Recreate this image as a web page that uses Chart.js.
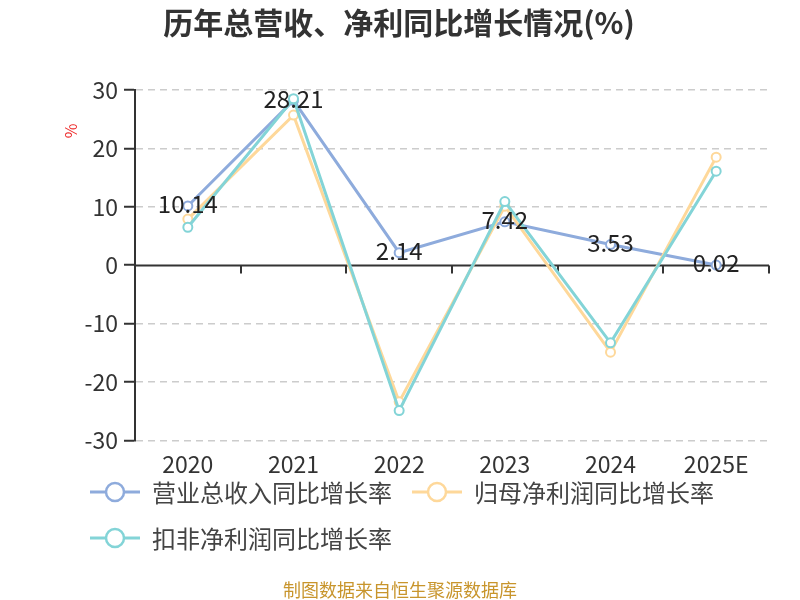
<!DOCTYPE html>
<html>
<head>
<meta charset="utf-8">
<script src="https://cdn.jsdelivr.net/npm/chart.js@4.4.1/dist/chart.umd.min.js"></script>
<style>
    html, body { margin: 0; padding: 0; background: #fff; }
    #wrap { width: 800px; height: 600px; }
</style>
</head>
<body>
<div id="wrap"><canvas id="chart" width="800" height="600"></canvas></div>
<script>
// 数据
const YEARS = ['2020', '2021', '2022', '2023', '2024', '2025E'];
const REVENUE_GROWTH = [10.14, 28.21, 2.14, 7.42, 3.53, 0.02];      // 营业总收入同比增长率
const NET_PROFIT_GROWTH = [7.9, 25.7, -23.4, 10.1, -14.9, 18.5];   // 归母净利润同比增长率
const DEDUCTED_PROFIT_GROWTH = [6.5, 28.5, -24.9, 10.9, -13.3, 16.1]; // 扣非净利润同比增长率
const Y_TICKS = [-30, -20, -10, 0, 10, 20, 30];

const SERIES_NAMES = ['营业总收入同比增长率', '归母净利润同比增长率', '扣非净利润同比增长率'];
const SERIES_COLORS = ['#8eabdc', '#fed89a', '#83d4d7'];

const FONT = "'Noto Sans CJK SC', 'Noto Sans', sans-serif";

// 零轴线 + 刻度（画在折线下面）
const zeroAxisPlugin = {
    id: 'zeroAxis',
    beforeDatasetsDraw(chart) {
        const { ctx, chartArea, scales: { x, y } } = chart;
        const y0 = Math.round(y.getPixelForValue(0)) + 0.5;
        ctx.save();
        ctx.strokeStyle = '#333';
        ctx.lineWidth = 2;
        ctx.beginPath();
        ctx.moveTo(chartArea.left, y0);
        ctx.lineTo(chartArea.right, y0);
        const n = YEARS.length;
        const half = (x.getPixelForValue(1) - x.getPixelForValue(0)) / 2;
        for (let i = 0; i <= n; i++) {
            const px = i < n ? x.getPixelForValue(i) - half : x.getPixelForValue(n - 1) + half;
            ctx.moveTo(Math.round(px), y0);
            ctx.lineTo(Math.round(px), y0 + 8);
        }
        ctx.stroke();
        ctx.restore();
    }
};

// 数值标签（营业总收入）
const valueLabelPlugin = {
    id: 'valueLabels',
    afterDatasetsDraw(chart) {
        const { ctx } = chart;
        const meta = chart.getDatasetMeta(0);
        ctx.save();
        ctx.fillStyle = '#222';
        ctx.font = '24px ' + FONT;
        ctx.textAlign = 'center';
        ctx.textBaseline = 'middle';
        meta.data.forEach((pt, i) => {
            ctx.fillText(REVENUE_GROWTH[i].toFixed(2), pt.x, pt.y - 2);
        });
        ctx.restore();
    }
};

// 标题、图例、单位、来源
const extrasPlugin = {
    id: 'extras',
    afterDraw(chart) {
        const { ctx } = chart;
        ctx.save();

        // 标题
        ctx.fillStyle = '#333';
        ctx.font = 'bold 30px ' + FONT;
        ctx.textAlign = 'center';
        ctx.textBaseline = 'middle';
        ctx.fillText('历年总营收、净利同比增长情况(%)', 399, 23);

        // 单位 %
        ctx.translate(71, 131);
        ctx.rotate(-Math.PI / 2);
        ctx.fillStyle = '#ee2c2c';
        ctx.font = '16px ' + FONT;
        ctx.fillText('%', 0, 0);
        ctx.setTransform(1, 0, 0, 1, 0, 0);

        // 图例
        const spots = [[90, 492], [412, 492], [90, 538]];
        ctx.font = '24px ' + FONT;
        ctx.textAlign = 'left';
        SERIES_NAMES.forEach((name, i) => {
            const [lx, ly] = spots[i];
            ctx.strokeStyle = SERIES_COLORS[i];
            ctx.lineWidth = 3;
            ctx.beginPath();
            ctx.moveTo(lx, ly);
            ctx.lineTo(lx + 50, ly);
            ctx.stroke();
            ctx.beginPath();
            ctx.arc(lx + 25, ly, 9, 0, Math.PI * 2);
            ctx.fillStyle = '#fff';
            ctx.fill();
            ctx.lineWidth = 2.5;
            ctx.stroke();
            ctx.fillStyle = '#444';
            ctx.fillText(name, lx + 62, ly + 1);
        });

        // 来源
        ctx.fillStyle = '#c8952c';
        ctx.font = '18px ' + FONT;
        ctx.textAlign = 'center';
        ctx.fillText('制图数据来自恒生聚源数据库', 400, 590);
        ctx.restore();
    }
};

function makeDataset(i, data, order) {
    return {
        label: SERIES_NAMES[i],
        data: data,
        borderColor: SERIES_COLORS[i],
        backgroundColor: SERIES_COLORS[i],
        borderWidth: 3,
        pointRadius: 4.5,
        pointBorderWidth: 2,
        pointBackgroundColor: '#fff',
        pointBorderColor: SERIES_COLORS[i],
        tension: 0,
        order: order
    };
}

new Chart(document.getElementById('chart'), {
    type: 'line',
    data: {
        labels: YEARS,
        datasets: [
            makeDataset(0, REVENUE_GROWTH, 3),
            makeDataset(1, NET_PROFIT_GROWTH, 2),
            makeDataset(2, DEDUCTED_PROFIT_GROWTH, 1)
        ]
    },
    plugins: [zeroAxisPlugin, valueLabelPlugin, extrasPlugin],
    options: {
        responsive: false,
        animation: false,
        layout: { padding: { left: 0, right: 31, top: 90, bottom: 112 } },
        plugins: {
            legend: { display: false },
            tooltip: { enabled: false },
            title: { display: false }
        },
        scales: {
            x: {
                offset: true,
                grid: { display: false, drawTicks: false },
                border: { display: false },
                ticks: { color: '#333', font: { family: FONT, size: 23 }, padding: 10 }
            },
            y: {
                min: -30,
                max: 30,
                afterFit(scale) { scale.width = 135; },
                afterBuildTicks(scale) { scale.ticks = Y_TICKS.map(v => ({ value: v })); },
                grid: {
                    color: c => (c.tick && c.tick.value === 0) ? 'rgba(0,0,0,0)' : '#cccccc',
                    lineWidth: 1.5,
                    tickColor: '#333',
                    tickLength: 11,
                    tickWidth: 2,
                    tickBorderDash: []
                },
                border: { display: true, color: '#333', width: 2, dash: [7, 5] },
                ticks: { color: '#333', font: { family: FONT, size: 23 }, padding: 6 }
            }
        }
    }
});
</script>
</body>
</html>
